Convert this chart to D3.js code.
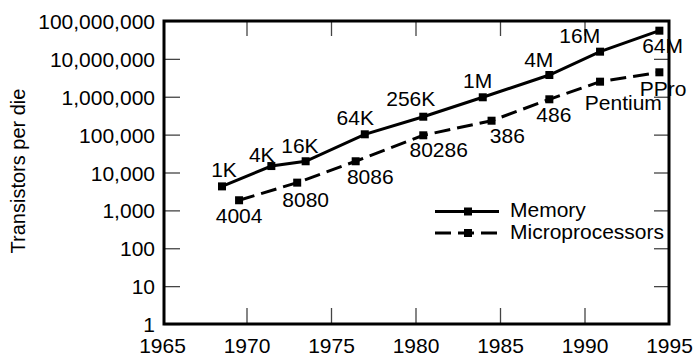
<!DOCTYPE html>
<html>
<head>
<meta charset="utf-8">
<script src="https://cdn.jsdelivr.net/npm/d3@7"></script>
<style>
  html, body { margin: 0; padding: 0; background: #fff; }
  svg { display: block; }
  text { font-family: "Liberation Sans", Arial, Helvetica, sans-serif; fill: #000; }
</style>
</head>
<body>
<svg id="chart" width="693" height="356"></svg>
<script>
// ---- data ----
const memoryYears = [1968.55, 1971.47, 1973.5, 1977.0, 1980.46, 1983.98, 1987.92, 1990.92, 1994.43];
const memoryValues = [4300, 14800, 19800, 102000, 297000, 968000, 3750000, 15500000, 55500000];
const memoryLabels = ["1K", "4K", "16K", "64K", "256K", "1M", "4M", "16M", "64M"];

const microYears = [1969.56, 1973.0, 1976.46, 1980.46, 1984.5, 1987.92, 1990.92, 1994.43];
const microValues = [1850, 5400, 19800, 96000, 233000, 857000, 2500000, 4420000];
const microLabels = ["4004", "8080", "8086", "80286", "386", "486", "Pentium", "PPro"];

const xTickYears = [1965, 1970, 1975, 1980, 1985, 1990, 1995];
const yTickValues = [1, 10, 100, 1000, 10000, 100000, 1000000, 10000000, 100000000];
const seriesNames = ["Memory", "Microprocessors"];
const yAxisTitle = "Transistors per die";

// ---- layout / style ----
const frame = { left: 164, right: 669, top: 21, bottom: 324 };
const memLabelOffsets = [[2, -9.6], [-9.6, -4.3], [-5.7, -8.6], [-9.5, -9.3], [-12.5, -10.7], [-5.2, -9], [-10.6, -8.3], [-20.3, -8.4], [3.2, 22]];
const microLabelOffsets = [[0, 23], [8.5, 24.6], [14.6, 22.3], [15.4, 21.4], [15.8, 22], [4.5, 22.4], [23.3, 28.3], [3.7, 23.7]];
const fontSize = 21;
const dash = "16,7";
const markerSize = 8;

const svg = d3.select("#chart");

const x = d3.scaleLinear().domain([1965, 1995]).range([162, 669]);
const y = d3.scaleLog().domain([1, 1e8]).range([frame.bottom, frame.top]);

// axes
const tickStyle = g => {
  g.select(".domain").remove();
  g.selectAll(".tick line").attr("stroke", "#444").attr("stroke-width", 1.3);
  g.selectAll(".tick text").attr("font-size", fontSize).attr("font-family", "Liberation Sans, Arial, sans-serif").attr("fill", "#000");
};

svg.append("g")
  .attr("transform", `translate(${frame.left},0)`)
  .call(d3.axisLeft(y).tickValues(yTickValues).tickFormat(d3.format(",")).tickSize(-16).tickPadding(9))
  .call(tickStyle)
  .call(g => g.selectAll(".tick text").attr("dy", "0.36em"));

svg.append("g")
  .attr("transform", `translate(${frame.right},0)`)
  .call(d3.axisRight(y).tickValues(yTickValues.slice(1, -1)).tickFormat("").tickSize(-15))
  .call(tickStyle);

svg.append("g")
  .attr("transform", `translate(0,${frame.bottom})`)
  .call(d3.axisBottom(x).tickValues(xTickYears).tickFormat(d3.format("d")).tickSize(-16).tickPadding(14))
  .call(tickStyle)
  .call(g => g.selectAll(".tick").filter(d => d === 1965 || d === 1995).select("line").remove());

svg.append("g")
  .attr("transform", `translate(0,${frame.top})`)
  .call(d3.axisTop(x).tickValues(xTickYears.slice(1, -1)).tickFormat("").tickSize(-15))
  .call(tickStyle);

// frame
svg.append("rect")
  .attr("x", frame.left).attr("y", frame.top)
  .attr("width", frame.right - frame.left).attr("height", frame.bottom - frame.top)
  .attr("fill", "none").attr("stroke", "#000").attr("stroke-width", 3);

// y title
svg.append("text")
  .attr("transform", `translate(25,171) rotate(-90)`)
  .attr("text-anchor", "middle")
  .attr("font-size", 20)
  .text(yAxisTitle);

// series
const memData = memoryYears.map((d, i) => ({ x: d, v: memoryValues[i], label: memoryLabels[i], off: memLabelOffsets[i] }));
const microData = microYears.map((d, i) => ({ x: d, v: microValues[i], label: microLabels[i], off: microLabelOffsets[i] }));

const line = d3.line().x(d => x(d.x)).y(d => y(d.v));

function drawSeries(data, dashed) {
  svg.append("path")
    .datum(data)
    .attr("d", line)
    .attr("fill", "none")
    .attr("stroke", "#000")
    .attr("stroke-width", 3)
    .attr("stroke-dasharray", dashed ? dash : null);
  svg.append("g").selectAll("rect")
    .data(data).join("rect")
    .attr("x", d => x(d.x) - markerSize / 2)
    .attr("y", d => y(d.v) - markerSize / 2)
    .attr("width", markerSize).attr("height", markerSize)
    .attr("fill", "#000");
  svg.append("g").selectAll("text")
    .data(data).join("text")
    .attr("x", d => x(d.x) + d.off[0])
    .attr("y", d => y(d.v) + d.off[1])
    .attr("text-anchor", "middle")
    .attr("font-size", fontSize)
    .text(d => d.label);
}
drawSeries(memData, false);
drawSeries(microData, true);

// legend
const legend = svg.append("g");
const legendRows = [{ name: seriesNames[0], dashed: false, y: 211.5 }, { name: seriesNames[1], dashed: true, y: 233 }];
legendRows.forEach(r => {
  legend.append("line")
    .attr("x1", 435).attr("x2", 499).attr("y1", r.y).attr("y2", r.y)
    .attr("stroke", "#000").attr("stroke-width", 3)
    .attr("stroke-dasharray", r.dashed ? "16,7" : null);
  legend.append("rect")
    .attr("x", 468 - markerSize / 2).attr("y", r.y - markerSize / 2)
    .attr("width", markerSize).attr("height", markerSize).attr("fill", "#000");
  legend.append("text")
    .attr("x", 510).attr("y", r.y + 5.5)
    .attr("font-size", fontSize)
    .text(r.name);
});
</script>
</body>
</html>
